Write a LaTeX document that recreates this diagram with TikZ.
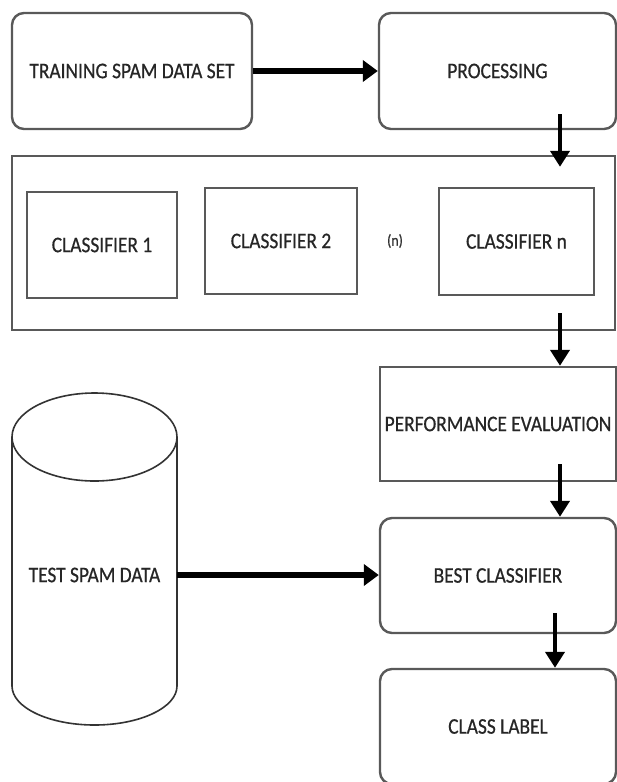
\documentclass[tikz,border=0pt]{standalone}
\usepackage{fontspec}
\setmainfont{Carlito}[FakeStretch=0.87, FakeBold=0.6]
\usetikzlibrary{arrows.meta,calc}
\begin{document}
\begin{tikzpicture}[x=1pt,y=-1pt,
  box/.style={draw=black!65, line width=2.4pt, fill=white, inner sep=0pt,
    font=\fontsize{22.3}{25}\selectfont, text=black!85},
  rbox/.style={box, rounded corners=12pt},
  txt/.style={inner sep=0pt, font=\fontsize{22.3}{25}\selectfont, text=black!85},
  harr/.style={line width=6pt, -{Triangle[length=15pt,width=21pt]}},
  varr/.style={line width=4.5pt, -{Triangle[length=16pt,width=19pt]}},
  cyl/.style={draw=black!80, line width=1.6pt},
]
\useasboundingbox (0,0) rectangle (617,782);
\fill[white] (0,0) rectangle (617,782);
\clip (0,0) rectangle (617,782);

% top row
\node[rbox, minimum width=240pt, minimum height=116pt] (train) at (132,71) {TRAINING SPAM DATA SET};
\node[rbox, minimum width=237pt, minimum height=116pt] (proc) at (497.5,71) {PROCESSING};
\draw[harr] (train) -- (proc);

% classifier container
\node[box, minimum width=603pt, minimum height=174pt] (cont) at (313.5,243) {};
\node[box, minimum width=150pt, minimum height=106pt] (clf1) at (102,245) {CLASSIFIER 1};
\node[box, minimum width=152pt, minimum height=106pt] (clf2) at (281,241) {CLASSIFIER 2};
\node[txt, font=\fontsize{16}{18}\selectfont, text=black!80] (dots) at (395,241) {(n)};
\node[box, minimum width=155pt, minimum height=107pt] (clfn) at (516.5,241.5) {CLASSIFIER n};

% right column
\node[box, minimum width=236pt, minimum height=114pt] (perf) at (498,424) {PERFORMANCE EVALUATION};
\node[rbox, minimum width=236pt, minimum height=115pt] (best) at (498,575.5) {BEST CLASSIFIER};
\node[rbox, minimum width=236pt, minimum height=115pt] (label) at (498,726.5) {CLASS LABEL};

\coordinate (ax) at (560,0);
\coordinate (bx) at (555,0);
\draw[varr, shorten <=-16pt, shorten >=-12pt] (proc.south -| ax) -- (cont.north -| ax);
\draw[varr, shorten <=-18pt] (cont.south -| ax) -- (perf.north -| ax);
\draw[varr, shorten <=-18pt] (perf.south -| ax) -- (best.north -| ax);
\draw[varr, shorten <=-21pt] (best.south -| bx) -- (label.north -| bx);

% test data cylinder
\draw[cyl] (94.5,437) ellipse [x radius=82.5, y radius=44];
\draw[cyl] (12,437) -- (12,686) arc[start angle=180, end angle=0, x radius=82.5, y radius=39] -- (177,437);
\node[txt, minimum width=165pt] (test) at (94.5,575) {TEST SPAM DATA};
\draw[harr] (test.east) -- (test.east -| best.west);
\end{tikzpicture}
\end{document}
